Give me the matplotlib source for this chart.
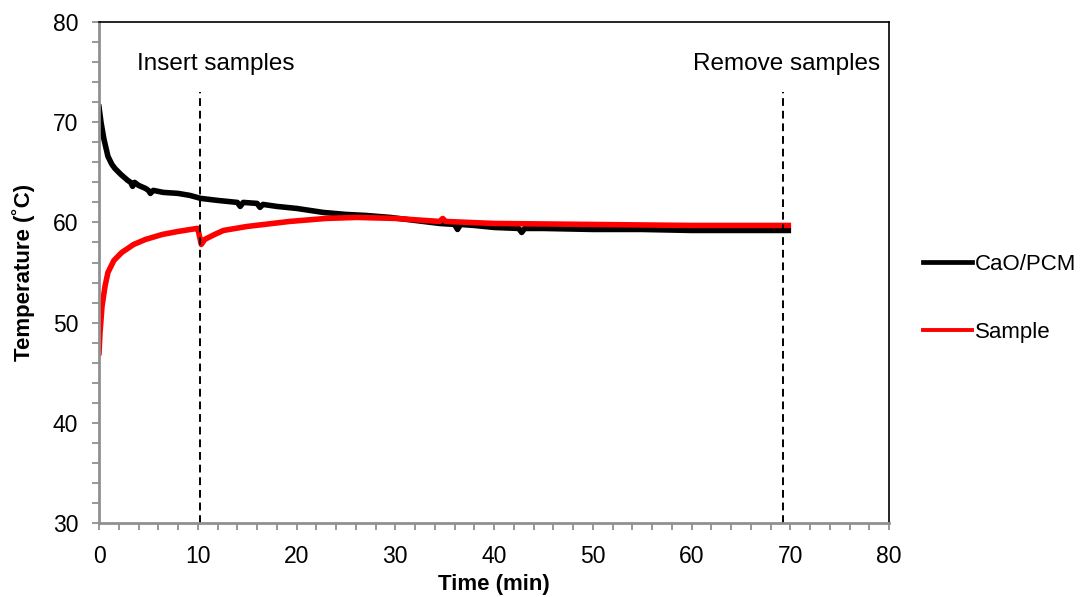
import matplotlib
matplotlib.use("Agg")
import matplotlib.pyplot as plt
from matplotlib.ticker import MultipleLocator

plt.rcParams['font.family'] = ['Liberation Sans', 'DejaVu Sans']

# CaO/PCM temperature
t_cao = [0, 0.2, 0.5, 0.9, 1.3, 1.6, 2.2, 2.9, 3.2, 3.4, 3.6, 4.0, 4.7, 5.0, 5.2, 5.5, 6.5,
         8.0, 9.2, 10.3, 12, 14, 14.3, 14.6, 16, 16.3, 16.6, 18, 20, 22.7, 25, 27, 29.5,
         32, 34.5, 36, 36.3, 36.6, 38, 40, 42.5, 42.8, 43.1, 45, 50, 55, 60, 65, 69.8]
v_cao = [71.5, 70.0, 68.3, 66.6, 65.8, 65.4, 64.8, 64.2, 64.0, 63.6, 64.0, 63.7, 63.4, 63.2,
         62.9, 63.2, 63.0, 62.9, 62.7, 62.4, 62.2, 62.0, 61.6, 62.0, 61.9, 61.5, 61.8, 61.6,
         61.4, 61.0, 60.8, 60.7, 60.5, 60.2, 59.9, 59.8, 59.3, 59.8, 59.7, 59.5, 59.4, 59.0,
         59.4, 59.4, 59.3, 59.3, 59.2, 59.2, 59.2]

# Sample temperature
t_smp = [0, 0.1, 0.3, 0.6, 0.9, 1.5, 2.3, 3.5, 4.7, 6.4, 8.0, 9.9, 10.0, 10.2, 10.35, 10.7,
         11.7, 12.6, 15, 19.3, 23, 26.1, 30, 34.5, 34.8, 35.1, 40, 50, 60, 69.8]
v_smp = [47.0, 49.0, 51.6, 53.6, 55.0, 56.2, 57.0, 57.8, 58.3, 58.8, 59.1, 59.4, 59.4, 58.5,
         57.8, 58.3, 58.8, 59.2, 59.6, 60.1, 60.4, 60.5, 60.4, 60.1, 60.4, 60.1, 59.9, 59.8,
         59.7, 59.7]

event_times = [10.2, 69.3]
event_labels = ["Insert samples", "Remove samples"]
event_label_x = [11.8, 69.6]

fig = plt.figure(figsize=(10.8, 5.97), dpi=100)
ax = fig.add_axes([0.0917, 0.124, 0.7315, 0.839])

ax.plot(t_cao, v_cao, color='black', lw=4.0, label='CaO/PCM', solid_joinstyle='round')
ax.plot(t_smp, v_smp, color='#ff0000', lw=4.0, label='Sample', solid_joinstyle='round')

for tx in event_times:
    ax.plot([tx, tx], [30, 73], color='black', lw=1.4, ls=(0, (4, 2.5)))
for lx, lab in zip(event_label_x, event_labels):
    ax.text(lx, 75.8, lab, ha='center', va='center', fontsize=17.5)

ax.set_xlim(0, 80)
ax.set_ylim(30, 80)
ax.xaxis.set_major_locator(MultipleLocator(10))
ax.xaxis.set_minor_locator(MultipleLocator(2))
ax.yaxis.set_major_locator(MultipleLocator(10))
ax.yaxis.set_minor_locator(MultipleLocator(2))
ax.tick_params(which='both', direction='out', length=5, width=1.3, color='#909090',
               labelsize=16.5)
ax.tick_params(axis='y', pad=10)
ax.tick_params(axis='x', pad=11)
for s in ['left', 'bottom']:
    ax.spines[s].set_color('#909090')
    ax.spines[s].set_linewidth(2)
for s in ['top', 'right']:
    ax.spines[s].set_color('black')
    ax.spines[s].set_linewidth(1.2)

ax.set_xlabel('Time (min)', fontsize=16, fontweight='bold', labelpad=4)
ax.set_ylabel('Temperature (˚C)', fontsize=16, fontweight='bold', labelpad=13)

h, l = ax.get_legend_handles_labels()
leg = fig.legend(h, l, loc='center left', bbox_to_anchor=(0.855, 0.5), frameon=False,
                 fontsize=16, handlelength=2.2, handletextpad=0.1, labelspacing=2.1,
                 borderpad=0, borderaxespad=0)
leg.get_lines()[0].set_linewidth(3.4)
leg.get_lines()[1].set_linewidth(2.8)

fig.savefig('out.png', dpi=100)
